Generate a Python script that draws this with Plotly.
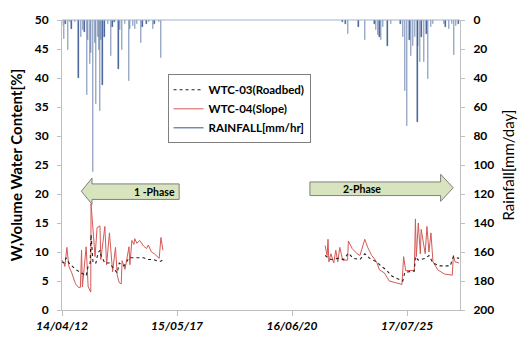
import pandas as pd
import plotly.graph_objects as go

BASE = pd.Timestamp("2014-04-12")

# ---- data (days since 2014-04-12) ----
wtc03_p1_day = [0, 7, 14, 24, 47, 68, 84, 91, 98, 101, 108, 118, 125, 132, 135, 149, 165, 182, 192, 199,
                216, 233, 250, 267, 284, 300, 317, 334, 344, 351]
wtc03_p1_val = [8.3, 8.1, 9.0, 8.1, 7.0, 6.4, 5.9, 7.6, 8.1, 13.0, 8.1, 8.1, 9.8, 10.3, 9.5, 8.1, 8.1, 7.0, 6.4, 8.1,
                7.6, 9.0, 9.0, 8.9, 9.0, 8.7, 8.7, 8.4, 8.4, 8.7]
wtc03_p2_day = [915, 935, 959, 979, 996, 1013, 1036, 1053, 1070, 1094, 1111, 1128, 1148, 1171, 1185, 1192,
                1225, 1229, 1239, 1263, 1276, 1290, 1313, 1350, 1361, 1381]
wtc03_p2_val = [9.4, 8.7, 8.9, 8.7, 9.8, 8.9, 8.7, 9.7, 8.9, 8.3, 7.5, 6.9, 5.8, 5.3, 5.0, 6.5,
                6.7, 9.2, 8.6, 8.9, 9.4, 8.1, 7.6, 7.6, 9.2, 8.9]

wtc04_p1_day = [0, 7, 10, 17, 24, 34, 47, 57, 64, 68, 71, 84, 91, 100, 101, 108, 115, 122, 132, 135,
                149, 155, 165, 176, 186, 192, 199, 206, 209, 219, 233, 236, 243, 250, 253, 260, 270,
                284, 294, 300, 311, 321, 338, 344, 351]
wtc04_p1_val = [8.6, 8.1, 7.5, 10.8, 7.5, 6.4, 4.5, 3.9, 3.9, 10.3, 4.0, 10.9, 4.0, 3.1, 18.3, 13.0, 9.2, 14.2, 14.5, 8.7,
                14.4, 7.8, 13.3, 6.6, 10.8, 6.0, 4.7, 4.5, 8.5, 7.0, 10.9, 7.8, 12.0, 11.3, 12.3, 11.5, 12.0,
                11.0, 10.6, 11.2, 10.0, 9.7, 8.9, 12.5, 10.3]
wtc04_p2_day = [915, 922, 925, 928, 935, 945, 952, 959, 966, 976, 993, 996, 1009, 1026, 1036, 1053, 1063,
                1077, 1094, 1104, 1121, 1138, 1161, 1182, 1188, 1195, 1225, 1229, 1232, 1239, 1246, 1249,
                1263, 1269, 1276, 1283, 1290, 1307, 1330, 1357, 1361, 1367, 1381]
wtc04_p2_val = [11.1, 9.4, 12.2, 8.3, 9.7, 8.1, 10.3, 8.3, 10.8, 8.6, 8.6, 11.9, 10.6, 9.7, 9.4, 12.2, 10.8,
                9.4, 8.3, 6.9, 6.4, 5.0, 4.7, 4.4, 9.2, 6.8, 6.8, 15.7, 9.2, 15.0, 9.7, 13.9,
                9.7, 14.4, 10.0, 13.3, 8.3, 6.9, 6.2, 6.0, 9.4, 8.3, 8.1]

rain_day = [1, 6, 12, 20, 29, 33, 46, 57, 65, 72, 78, 87, 91, 97, 102, 108, 114, 119, 125, 128, 133, 136,
            141, 148, 159, 170, 176, 183, 196, 202, 209, 218, 232, 237, 246, 254, 262, 274, 280, 294,
            303, 316, 322, 337, 344,
            975, 986, 994, 1031, 1053, 1087, 1093, 1098, 1104, 1110, 1115, 1132, 1143, 1177, 1185, 1192,
            1199, 1208, 1214, 1221, 1228, 1236, 1239, 1245, 1250, 1259, 1267, 1273, 1284, 1290, 1329,
            1334, 1346, 1357, 1362, 1371, 1379]
rain_val = [4, 13, 3, 20.6, 1.5, 6, 1.5, 40, 11.6, 7, 8, 52, 14, 30, 23, 105, 16, 58, 12, 21, 63, 14,
            45, 11.6, 3, 24.5, 5, 1.5, 34, 7, 20.6, 3, 42, 6, 4, 6, 3, 15.6, 5, 3,
            1.5, 6, 3, 1.5, 26,
            1.5, 3, 9.5, 5, 14, 3, 7, 10.5, 11.5, 14, 5, 18, 3, 3, 11.5, 49,
            73, 14, 25, 18, 11.5, 70, 18, 29, 11.5, 29, 9.5, 41, 5, 3, 3,
            5, 6, 3, 24, 4, 3]

left_ticks = [0, 5, 10, 15, 20, 25, 30, 35, 40, 45, 50]
right_ticks = [0, 20, 40, 60, 80, 100, 120, 140, 160, 180, 200]


def to_date(days):
    return [BASE + pd.Timedelta(days=d) for d in days]


def gap_join(d1, v1, d2, v2):
    return to_date(d1) + [None] + to_date(d2), v1 + [None] + v2


W, H = 527, 345
ML, MR, MT, MB = 62, 54, 16, 30
PW, PH = W - ML - MR, H - MT - MB


def px(x):
    return (x - ML) / PW


def py(y):
    return (H - MB - y) / PH


FONT = "Lato"
RAIN_COLOR = "#33578f"
fig = go.Figure()

# rainfall bars on reversed right axis
fig.add_trace(go.Bar(x=to_date(rain_day), y=rain_val, yaxis="y2", width=86400000 * 1.0,
                     marker=dict(color=RAIN_COLOR, line=dict(color=RAIN_COLOR, width=0.4)),
                     showlegend=False, name="RAINFALL[mm/hr]"))

x3, y3 = gap_join(wtc03_p1_day, wtc03_p1_val, wtc03_p2_day, wtc03_p2_val)
x4, y4 = gap_join(wtc04_p1_day, wtc04_p1_val, wtc04_p2_day, wtc04_p2_val)

fig.add_trace(go.Scatter(x=x4, y=y4, mode="lines", name="WTC-04(Slope)",
                         line=dict(color="#d45a56", width=1), connectgaps=False, legendrank=2))
fig.add_trace(go.Scatter(x=x3, y=y3, mode="lines", name="WTC-03(Roadbed)",
                         line=dict(color="#222222", width=1.1, dash="dot"), connectgaps=False, legendrank=1))
fig.add_trace(go.Scatter(x=[None], y=[None], mode="lines", name="RAINFALL[mm/hr]",
                         line=dict(color=RAIN_COLOR, width=1), legendrank=3))

axis_font = dict(family=FONT, size=12, color="#000000", weight="bold")

fig.update_layout(
    width=W, height=H, autosize=False,
    margin=dict(l=ML, r=MR, t=MT, b=MB),
    paper_bgcolor="white", plot_bgcolor="white",
    showlegend=True,
    bargap=0,
    legend=dict(x=px(171), y=py(72), xanchor="left", yanchor="top",
                bordercolor="#7f7f7f", borderwidth=1, bgcolor="white",
                font=dict(family=FONT, size=11.5, color="#000000", weight="bold"),
                itemwidth=30, tracegroupgap=0, traceorder="normal"),
    xaxis=dict(type="date", range=[BASE, BASE + pd.Timedelta(days=1384)],
               tick0=BASE, dtick=400 * 86400000, tickformat="%y/%m/%d",
               ticks="outside", ticklen=5, tickcolor="#bfbfbf",
               showline=True, linecolor="#bfbfbf", showgrid=False, zeroline=False,
               tickfont=dict(family=FONT, size=12, color="#000000", weight="bold", style="italic")),
    yaxis=dict(range=[0, 50], tickvals=left_ticks, ticks="outside", ticklen=4, tickcolor="#bfbfbf",
               showline=True, linecolor="#bfbfbf", showgrid=False, zeroline=False,
               tickfont=axis_font, ticklabelstandoff=6,
               title=dict(text="W,Volume Water Content[%]", standoff=8,
                          font=dict(family=FONT, size=15, color="#000000", weight="bold"))),
    yaxis2=dict(range=[200, 0], tickvals=right_ticks, overlaying="y", side="right",
                ticks="outside", ticklen=4, tickcolor="#bfbfbf",
                showline=True, linecolor="#bfbfbf", showgrid=False, zeroline=False,
                tickfont=axis_font, ticklabelstandoff=6,
                title=dict(text="Rainfall[mm/day]", standoff=10,
                           font=dict(family=FONT, size=15, color="#000000"))),
)

# top baseline of rainfall axis
fig.add_shape(type="line", xref="paper", yref="paper", x0=0, x1=1, y0=1, y1=1,
              line=dict(color="#9fb2cc", width=1.2))


def arrow_path(pts):
    s = "M " + " L ".join(f"{px(a):.4f},{py(b):.4f}" for a, b in pts) + " Z"
    return s


# 1-Phase arrow (pointing left)
a1 = [(82, 192.5), (93, 179), (93, 185), (183, 185), (183, 201), (93, 201), (93, 206)]
# 2-Phase arrow (pointing right)
a2 = [(466, 189), (453, 175), (453, 183), (318, 183), (318, 197), (453, 197), (453, 203)]
for pts in (a1, a2):
    fig.add_shape(type="path", xref="paper", yref="paper", path=arrow_path(pts),
                  fillcolor="#d7e4bd", line=dict(color="#7f7f7f", width=1))

fig.add_annotation(xref="paper", yref="paper", x=px(134), y=py(193), text="1 -Phase", showarrow=False,
                   font=dict(family=FONT, size=10.5, color="#000000", weight="bold"))
fig.add_annotation(xref="paper", yref="paper", x=px(393), y=py(190.5), text="2-Phase", showarrow=False,
                   font=dict(family=FONT, size=10.5, color="#000000", weight="bold"))

fig.write_html("out.html")
